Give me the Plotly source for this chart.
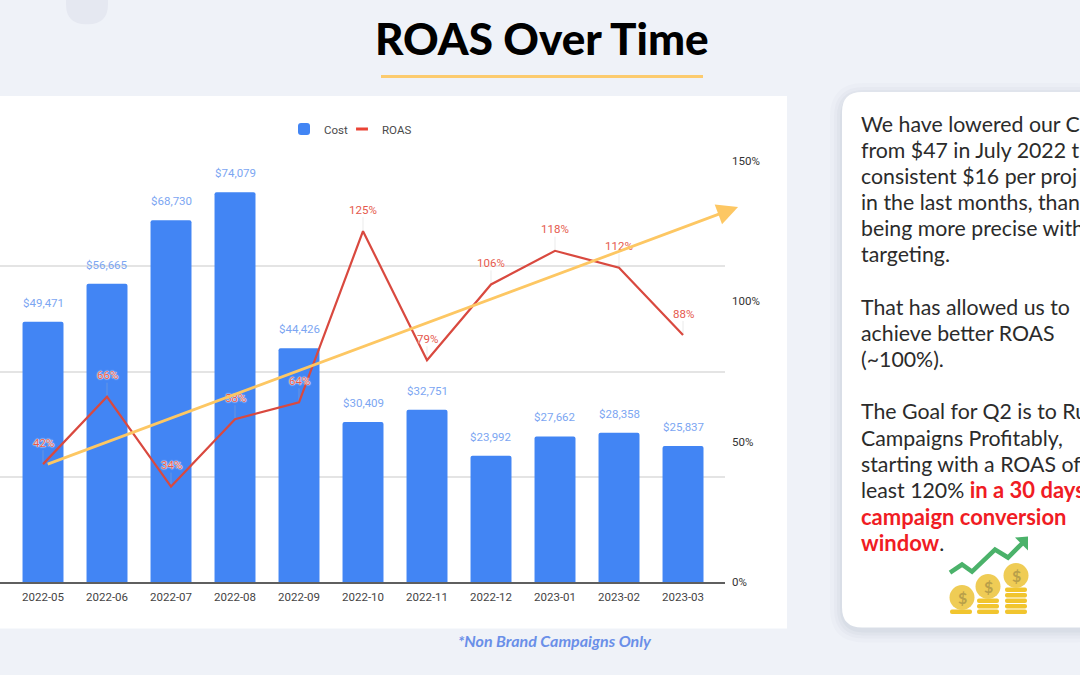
import plotly.graph_objects as go

W, H = 1080, 675
PL, PR, PT, PB = 0, 725, 161, 582.5

months = ["2022-05","2022-06","2022-07","2022-08","2022-09","2022-10","2022-11","2022-12","2023-01","2023-02","2023-03"]
cost = [49471,56665,68730,74079,44426,30409,32751,23992,27662,28358,25837]
roas = [42,66,34,58,64,125,79,106,118,112,88]
cost_ticks = [0,20000,40000,60000,80000]
roas_ticks = [0,50,100,150]
roas_tick_labels = ["0%","50%","100%","150%"]
trend_start = (0.05, 41.8)
trend_end = (10.86, 133.6)

title = "ROAS Over Time"
footnote = "*Non Brand Campaigns Only"
RS = '<span style="color:#f01c24;font-size:22px"><b>'
RE = '</b></span>'
panel_lines = [
    "We have lowered our C", "from $47 in July 2022 t", "consistent $16 per proj",
    "in the last months, than", "being more precise with", "targeting.", "",
    "That has allowed us to", "achieve better ROAS", "(~100%).", "",
    "The Goal for Q2 is to Ru", "Campaigns Profitably,", "starting with a ROAS of",
    f'least 120% {RS}in a 30 days{RE}',
    f'{RS}campaign conversion{RE}',
    f'{RS}window{RE}.',
]

BG = "#eff2f8"
BLUE = "#4285f4"
RED = "#d9493f"
YEL = "#fdc763"

def px(x): return (x - PL) / (PR - PL)
def py(y): return (PB - y) / (PB - PT)

def rrect(x0, y0, x1, y1, r):
    return (f"M{px(x0+r)},{py(y0)} L{px(x1-r)},{py(y0)} Q{px(x1)},{py(y0)} {px(x1)},{py(y0+r)} "
            f"L{px(x1)},{py(y1-r)} Q{px(x1)},{py(y1)} {px(x1-r)},{py(y1)} "
            f"L{px(x0+r)},{py(y1)} Q{px(x0)},{py(y1)} {px(x0)},{py(y1-r)} "
            f"L{px(x0)},{py(y0+r)} Q{px(x0)},{py(y0)} {px(x0+r)},{py(y0)} Z")

shapes = []
def add_rect(x0,y0,x1,y1,color,layer="below"):
    shapes.append(dict(type="rect",xref="paper",yref="paper",x0=px(x0),x1=px(x1),y0=py(y0),y1=py(y1),
                       fillcolor=color,line_width=0,layer=layer))
def add_circle(x0,y0,x1,y1,color,layer="above"):
    shapes.append(dict(type="circle",xref="paper",yref="paper",x0=px(x0),x1=px(x1),y0=py(y0),y1=py(y1),
                       fillcolor=color,line_width=0,layer=layer))
def add_path(path,color,layer="below",line=None,lw=0):
    shapes.append(dict(type="path",xref="paper",yref="paper",path=path,fillcolor=color,
                       line=dict(color=line or "rgba(0,0,0,0)",width=lw),layer=layer))

add_path(rrect(66,-30,108,24,20),"#e5e8f1")
add_rect(-10,96,787,629,"#ffffff")
for d,a in [(12,0.03),(8,0.04),(5,0.05),(2,0.06)]:
    add_path(rrect(842-d,92-d+3,1110,628+d+3,22+d),f"rgba(120,130,160,{a})")
add_path(rrect(842,92,1110,628,20),"#ffffff")
add_rect(381,75,703,78,"#fccb6e")

GOLD="#f1c52e"; COIN="#efcc55"; DOL="#b9a04a"
for x0,x1,ys in [(950,972,[610]),(977,999,[599,604.5,610]),(1005,1027,[588,593.5,599,604.5,610])]:
    for y in ys:
        add_path(rrect(x0,y,x1,y+4.5,2),GOLD,"above")
coin_centers = [(962,598),(988,587),(1016,576)]
for cx,cy in coin_centers:
    add_circle(cx-12.5,cy-12.5,cx+12.5,cy+12.5,COIN)
shapes.append(dict(type="path",xref="paper",yref="paper",layer="above",
    path=f"M{px(950)},{py(573)} L{px(962)},{py(565)} L{px(972)},{py(572)} L{px(995)},{py(550)} L{px(1008)},{py(558)} L{px(1023)},{py(543)}",
    line=dict(color="#4bb26a",width=4.5)))
add_path(f"M{px(1028)},{py(537)} L{px(1028)},{py(551)} L{px(1015)},{py(538)} Z","#4bb26a","above")

fig = go.Figure()
fig.add_trace(go.Bar(x=months,y=cost,name="Cost",marker=dict(color=BLUE,line_width=0),width=0.64,yaxis="y",legend="legend"))
fig.add_trace(go.Scatter(x=months,y=roas,name="ROAS",mode="lines",line=dict(color=RED,width=2.2),yaxis="y2",
                         showlegend=False,
                         error_y=dict(type="data",symmetric=False,array=[5]*len(roas),arrayminus=[0]*len(roas),
                                      thickness=1,width=0,color="rgba(190,190,190,0.3)")))
fig.add_trace(go.Scatter(x=[None],y=[None],name="ROAS",mode="markers",yaxis="y2",legend="legend2",
                         marker=dict(symbol="line-ew",size=8.5,line=dict(color="#ea4335",width=3))))

ann = []
for m,c in zip(months,cost):
    ann.append(dict(x=m,y=c,xref="x",yref="y",text=f"${c:,}",showarrow=False,yshift=19,
                    xanchor="center",yanchor="middle",
                    font=dict(family="Roboto",size=11.5,color="#7ca6f2")))
for m,r in zip(months,roas):
    ann.append(dict(x=m,y=r,xref="x",yref="y2",text=f"{r}%",showarrow=False,yshift=21.5,
                    xanchor="center",yanchor="middle",
                    font=dict(family="Roboto",size=11.5,color="#e5594d",
                              shadow="0 0 1px #fff, 0 0 1px #fff, 0 0 2px #fff")))
ann.append(dict(x=trend_end[0],y=trend_end[1],ax=trend_start[0],ay=trend_start[1],
                xref="x",yref="y2",axref="x",ayref="y2",text="",showarrow=True,
                arrowhead=2,arrowsize=1.5,arrowwidth=2.8,arrowcolor=YEL,standoff=0))
ann.append(dict(x=px(542),y=py(38),xref="paper",yref="paper",text=title,showarrow=False,
                xanchor="center",yanchor="middle",
                font=dict(family="Lato",size=44,weight=900,color="#000000")))
ann.append(dict(x=px(554.5),y=py(641),xref="paper",yref="paper",text=f"<b><i>{footnote}</i></b>",showarrow=False,
                xanchor="center",yanchor="middle",
                font=dict(family="Lato",size=16,color="#6a8fe8")))
for i,line in enumerate(panel_lines):
    if line:
        ann.append(dict(x=px(859.5),y=py(123.5+26.2*i),xref="paper",yref="paper",text=line,showarrow=False,
                        xanchor="left",yanchor="middle",font=dict(family="Lato",size=21.3,color="#2b2b2b")))
for cx,cy in coin_centers:
    ann.append(dict(x=px(cx),y=py(cy),xref="paper",yref="paper",text="<b>$</b>",showarrow=False,
                    xanchor="center",yanchor="middle",font=dict(family="Lato",size=16,color=DOL)))

legend_font = dict(family="Roboto",size=11.5,color="#4a4a4a")
fig.update_layout(
    width=W,height=H,
    margin=dict(l=PL,r=W-PR,t=PT,b=H-PB,pad=0),
    paper_bgcolor=BG,plot_bgcolor="rgba(0,0,0,0)",
    shapes=shapes,annotations=ann,
    barcornerradius=2,
    hovermode=False,
    legend=dict(orientation="h",x=px(284),y=py(129),xanchor="left",yanchor="middle",
                font=legend_font,bgcolor="rgba(0,0,0,0)"),
    legend2=dict(orientation="h",x=px(342),y=py(129),xanchor="left",yanchor="middle",
                 font=legend_font,bgcolor="rgba(0,0,0,0)"),
    xaxis=dict(range=[-0.672,10.656],type="category",categoryorder="array",categoryarray=months,
               showgrid=False,showline=True,linecolor="#5f5f5f",linewidth=1.5,ticks="",
               tickfont=dict(family="Roboto",size=11.5,color="#444444"),ticklabelstandoff=3),
    yaxis=dict(range=[0,80000],tickvals=cost_ticks,showticklabels=False,showgrid=True,
               gridcolor="#e4e4e4",gridwidth=1.5,zeroline=False,ticks=""),
    yaxis2=dict(range=[0,150],tickvals=roas_ticks,ticktext=roas_tick_labels,overlaying="y",side="right",anchor="x",
                showgrid=False,zeroline=False,showline=False,ticks="",ticklabelstandoff=6,
                tickfont=dict(family="Roboto",size=11.5,color="#333333")),
)
fig.write_html("out.html",config=dict(displayModeBar=False),
               post_script="document.body.style.margin='0';document.documentElement.style.overflow='hidden';")
